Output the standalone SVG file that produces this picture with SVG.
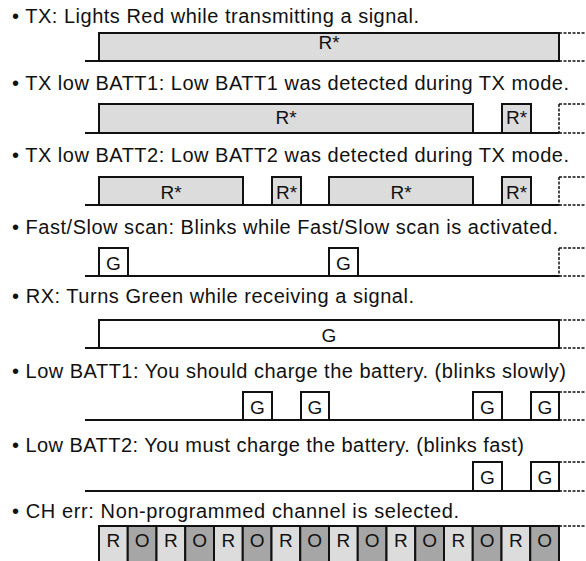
<svg xmlns="http://www.w3.org/2000/svg" width="586" height="561" viewBox="0 0 586 561">
<style>
.t{font-family:"Liberation Sans",Arial,sans-serif;font-size:20px;fill:#111}
.l{font-family:"Liberation Sans",Arial,sans-serif;font-size:19px;fill:#111;text-anchor:middle}
.bx{stroke:#111;stroke-width:2}
.g{fill:#dcdcdc}
.o{fill:#a6a6a6}
.w{fill:#fff}
.base{stroke:#111;stroke-width:2;fill:none}
.d{stroke:#111;stroke-width:1.5;stroke-dasharray:3 1.5;fill:none}
</style>
<rect width="586" height="561" fill="#fff"/>
<g id="row-tx">
<text class="t" x="12" y="23" textLength="407" lengthAdjust="spacing">• TX: Lights Red while transmitting a signal.</text>
<line class="base" x1="85" y1="61" x2="99" y2="61"/>
<rect class="bx g" x="99" y="33" width="460" height="28"/>
<text class="l" x="329" y="49">R*</text>
<path class="d" d="M559 33H586M559 61H586"/>
</g>
<g id="row-tx-low-batt1">
<text class="t" x="12" y="90" textLength="557" lengthAdjust="spacing">• TX low BATT1: Low BATT1 was detected during TX mode.</text>
<line class="base" x1="85" y1="133" x2="559" y2="133"/>
<rect class="bx g" x="99" y="104" width="374" height="29"/>
<rect class="bx g" x="502" y="104" width="29" height="29"/>
<text class="l" x="286" y="124">R*</text>
<text class="l" x="516.5" y="124">R*</text>
<path class="d" d="M559 104H586M559 133H586M559 104V133"/>
</g>
<g id="row-tx-low-batt2">
<text class="t" x="12" y="162" textLength="557" lengthAdjust="spacing">• TX low BATT2: Low BATT2 was detected during TX mode.</text>
<line class="base" x1="85" y1="205" x2="559" y2="205"/>
<rect class="bx g" x="99" y="177" width="144" height="28"/>
<rect class="bx g" x="272" y="177" width="29" height="28"/>
<rect class="bx g" x="329" y="177" width="144" height="28"/>
<rect class="bx g" x="502" y="177" width="29" height="28"/>
<text class="l" x="171" y="199">R*</text>
<text class="l" x="286.5" y="199">R*</text>
<text class="l" x="401" y="199">R*</text>
<text class="l" x="516.5" y="199">R*</text>
<path class="d" d="M559 177H586M559 205H586M559 177V205"/>
</g>
<g id="row-scan">
<text class="t" x="12" y="234" textLength="546" lengthAdjust="spacing">• Fast/Slow scan: Blinks while Fast/Slow scan is activated.</text>
<line class="base" x1="85" y1="276" x2="559" y2="276"/>
<rect class="bx w" x="99" y="248" width="29" height="28"/>
<rect class="bx w" x="329" y="248" width="29" height="28"/>
<text class="l" x="113.5" y="270">G</text>
<text class="l" x="343.5" y="270">G</text>
<path class="d" d="M559 248H586M559 276H586M559 248V276"/>
</g>
<g id="row-rx">
<text class="t" x="12" y="303" textLength="402" lengthAdjust="spacing">• RX: Turns Green while receiving a signal.</text>
<line class="base" x1="85" y1="348" x2="99" y2="348"/>
<rect class="bx w" x="99" y="320" width="460" height="28"/>
<text class="l" x="329" y="342">G</text>
<path class="d" d="M559 320H586M559 348H586"/>
</g>
<g id="row-low-batt1">
<text class="t" x="12" y="378" textLength="554" lengthAdjust="spacing">• Low BATT1: You should charge the battery. (blinks slowly)</text>
<line class="base" x1="85" y1="420" x2="559" y2="420"/>
<rect class="bx w" x="243" y="392" width="29" height="28"/>
<rect class="bx w" x="301" y="392" width="28" height="28"/>
<rect class="bx w" x="473" y="392" width="29" height="28"/>
<rect class="bx w" x="531" y="392" width="28" height="28"/>
<text class="l" x="257.5" y="414">G</text>
<text class="l" x="315" y="414">G</text>
<text class="l" x="487.5" y="414">G</text>
<text class="l" x="545" y="414">G</text>
<path class="d" d="M559 392H586M559 420H586"/>
</g>
<g id="row-low-batt2">
<text class="t" x="12" y="452" textLength="512" lengthAdjust="spacing">• Low BATT2: You must charge the battery. (blinks fast)</text>
<line class="base" x1="85" y1="491" x2="559" y2="491"/>
<rect class="bx w" x="473" y="462" width="29" height="29"/>
<rect class="bx w" x="531" y="462" width="28" height="29"/>
<text class="l" x="487.5" y="484">G</text>
<text class="l" x="545" y="484">G</text>
<path class="d" d="M559 462H586M559 491H586"/>
</g>
<g id="row-ch-err">
<text class="t" x="12" y="518" textLength="447" lengthAdjust="spacing">• CH err: Non-programmed channel is selected.</text>
<g>
<rect class="bx g" x="99" y="526" width="28.75" height="40"/>
<rect class="bx o" x="127.75" y="526" width="28.75" height="40"/>
<rect class="bx g" x="156.5" y="526" width="28.75" height="40"/>
<rect class="bx o" x="185.25" y="526" width="28.75" height="40"/>
<rect class="bx g" x="214" y="526" width="28.75" height="40"/>
<rect class="bx o" x="242.75" y="526" width="28.75" height="40"/>
<rect class="bx g" x="271.5" y="526" width="28.75" height="40"/>
<rect class="bx o" x="300.25" y="526" width="28.75" height="40"/>
<rect class="bx g" x="329" y="526" width="28.75" height="40"/>
<rect class="bx o" x="357.75" y="526" width="28.75" height="40"/>
<rect class="bx g" x="386.5" y="526" width="28.75" height="40"/>
<rect class="bx o" x="415.25" y="526" width="28.75" height="40"/>
<rect class="bx g" x="444" y="526" width="28.75" height="40"/>
<rect class="bx o" x="472.75" y="526" width="28.75" height="40"/>
<rect class="bx g" x="501.5" y="526" width="28.75" height="40"/>
<rect class="bx o" x="530.25" y="526" width="28.75" height="40"/>
</g>
<text class="l" x="113.4" y="547">R</text>
<text class="l" x="142.1" y="547">O</text>
<text class="l" x="170.9" y="547">R</text>
<text class="l" x="199.6" y="547">O</text>
<text class="l" x="228.4" y="547">R</text>
<text class="l" x="257.1" y="547">O</text>
<text class="l" x="285.9" y="547">R</text>
<text class="l" x="314.6" y="547">O</text>
<text class="l" x="343.4" y="547">R</text>
<text class="l" x="372.1" y="547">O</text>
<text class="l" x="400.9" y="547">R</text>
<text class="l" x="429.6" y="547">O</text>
<text class="l" x="458.4" y="547">R</text>
<text class="l" x="487.1" y="547">O</text>
<text class="l" x="515.9" y="547">R</text>
<text class="l" x="544.6" y="547">O</text>
<path class="d" d="M559 526H586"/>
</g>
</svg>
